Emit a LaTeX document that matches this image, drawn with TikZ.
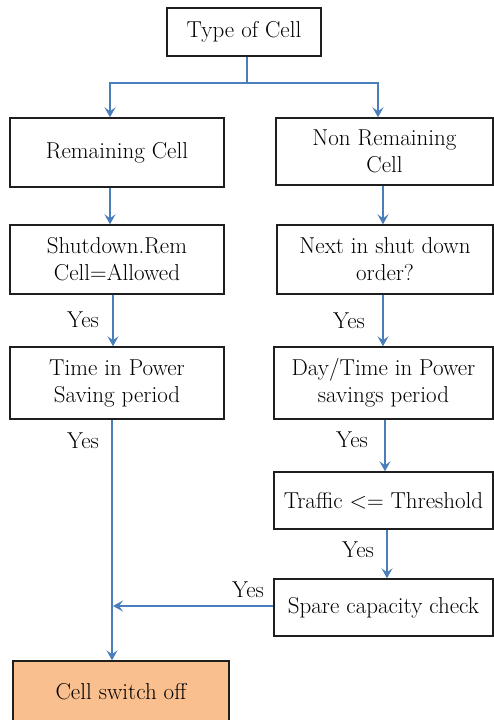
\documentclass[tikz,border=0pt]{standalone}
\usetikzlibrary{arrows.meta}
\definecolor{linkblue}{RGB}{74,126,187}
\definecolor{peach}{RGB}{249,191,142}
\definecolor{boxline}{RGB}{30,30,30}
\tikzset{
  box/.style={draw=boxline, line width=1.4pt, align=center, inner sep=0pt,
    font=\rmfamily\fontsize{23}{27}\selectfont},
  lbl/.style={inner sep=0pt, font=\rmfamily\fontsize{23}{27}\selectfont},
  arr/.style={draw=linkblue, line width=1.4pt, -{Stealth[length=10pt,width=11pt,inset=4pt]}},
  ln/.style={draw=linkblue, line width=1.4pt}
}
\begin{document}
\begin{tikzpicture}[x=1pt,y=-1pt]
\useasboundingbox (0,0) rectangle (494,720);
\node[box, minimum width=154pt, minimum height=48pt] (type) at (244,32) {Type of Cell};
\node[box, minimum width=214pt, minimum height=69pt] (rem) at (117,152.5) {Remaining Cell};
\node[box, minimum width=217pt, minimum height=67pt] (nonrem) at (384.5,151.5) {Non Remaining\\Cell};
\node[box, minimum width=214pt, minimum height=69pt] (shut) at (117,259.5) {Shutdown.Rem\\Cell=Allowed};
\node[box, minimum width=216pt, minimum height=69pt] (next) at (385,259.5) {Next in shut down\\order?};
\node[box, minimum width=214pt, minimum height=72pt] (time) at (117,383) {Time in Power\\Saving period};
\node[box, minimum width=219pt, minimum height=72pt] (day) at (383.5,383) {Day/Time in Power\\savings period};
\node[box, minimum width=219pt, minimum height=57pt] (traffic) at (383.5,500.5) {Traffic <= Threshold};
\node[box, minimum width=219pt, minimum height=57pt] (spare) at (383.5,607.5) {Spare capacity check};
\node[box, fill=peach, minimum width=216pt, minimum height=62pt] (off) at (121,692) {Cell switch off};

\coordinate (split) at (247,83);
\coordinate (join) at (113,606);
\draw[ln] ([xshift=3pt]type.south) -- (split);
\draw[arr] (split) -| ([xshift=-7pt]rem.north);
\draw[arr] (split) -| ([xshift=-6.5pt]nonrem.north);
\draw[arr] ([xshift=-7pt]rem.south) -- ([xshift=-7pt]shut.north);
\draw[arr] ([xshift=-2pt]nonrem.south -| next.north) -- ([xshift=-2pt]next.north);
\draw[arr] ([xshift=-4pt]shut.south) -- ([xshift=-4pt]time.north);
\draw[arr] ([xshift=-2pt]next.south) -- ([xshift=-0.5pt]day.north);
\draw[arr] ([xshift=1.5pt]day.south) -- ([xshift=1.5pt]traffic.north);
\draw[arr] ([xshift=3.5pt]traffic.south) -- ([xshift=3.5pt]spare.north);
\draw[arr] ([xshift=-5pt]time.south) -- ([xshift=-9pt]off.north);
\draw[arr] (spare.west |- join) -- (join);

\node[lbl] (y1) at (83,320) {Yes};
\node[lbl] (y2) at (349,321) {Yes};
\node[lbl] (y3) at (83,441) {Yes};
\node[lbl] (y4) at (352,440) {Yes};
\node[lbl] (y5) at (358,550) {Yes};
\node[lbl] (y6) at (248,590) {Yes};
\end{tikzpicture}
\end{document}
